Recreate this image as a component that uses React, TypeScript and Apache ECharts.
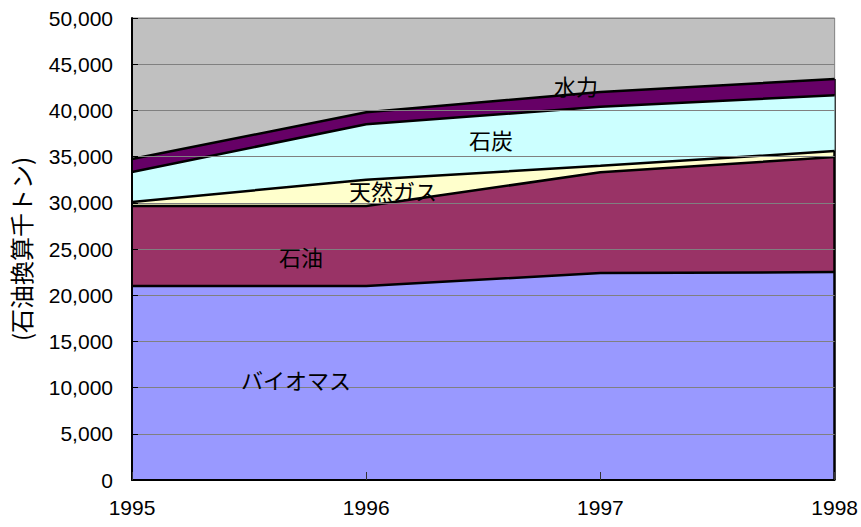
import React, { useEffect, useRef } from "react";
import * as echarts from "echarts";

// Primary energy supply by source, thousand tonnes of oil equivalent
const years = ["1995", "1996", "1997", "1998"];
const biomass = [21000, 21000, 22400, 22500];
const oil = [8650, 8650, 10900, 12450];
const naturalGas = [440, 2850, 700, 650];
const coal = [3240, 6000, 6400, 6050];
const hydro = [1400, 1300, 1600, 1750];

const yTicks = { min: 0, max: 50000, interval: 5000 };

const seriesDefs = [
  { name: "バイオマス", data: biomass, color: "#9999FF" },
  { name: "石油", data: oil, color: "#993366" },
  { name: "天然ガス", data: naturalGas, color: "#FFFFCC" },
  { name: "石炭", data: coal, color: "#CCFFFF" },
  { name: "水力", data: hydro, color: "#660066" },
];

// In-plot label placement for each band
const bandLabels = [
  { text: "水力", x: 576, y: 85 },
  { text: "石炭", x: 491, y: 139 },
  { text: "天然ガス", x: 393, y: 190 },
  { text: "石油", x: 301, y: 256 },
  { text: "バイオマス", x: 296, y: 379 },
];

const NUM_FONT = "'Liberation Sans', Arial, sans-serif";
const JP_FONT = "'Noto Sans CJK JP', sans-serif";
const OUTLINE = { color: "#000", width: 2.5 };

export default function App() {
  const ref = useRef<HTMLDivElement>(null);

  useEffect(() => {
    if (!ref.current) return;
    const chart = echarts.init(ref.current, null, { renderer: "svg" });
    const last = years.length - 1;
    const stackTop = seriesDefs.reduce((s, d) => s + d.data[last], 0);

    // Filled bands first, then their black outlines on a separate stack so
    // no band covers the boundary line of the one beneath it.
    const areaSeries = seriesDefs.map((d, i) => ({
      name: d.name,
      type: "line",
      stack: "area",
      data: d.data,
      symbol: "none",
      lineStyle: { width: 0 },
      areaStyle: { color: d.color, opacity: 1 },
      itemStyle: { color: d.color },
      z: 2 + i,
    }));
    const outlineSeries = seriesDefs.map((d, i) => ({
      name: d.name + "-outline",
      type: "line",
      stack: "outline",
      data: d.data,
      symbol: "none",
      lineStyle: OUTLINE,
      itemStyle: { color: "#000" },
      z: 20,
      markLine:
        i === seriesDefs.length - 1
          ? {
              silent: true,
              symbol: "none",
              label: { show: false },
              lineStyle: { ...OUTLINE, type: "solid" },
              data: [[{ coord: [years[last], 0] }, { coord: [years[last], stackTop] }]],
            }
          : undefined,
    }));

    chart.setOption({
      animation: false,
      grid: {
        left: 127,
        top: 18,
        right: 25,
        bottom: 47,
        show: true,
        backgroundColor: "#C0C0C0",
        borderColor: "#808080",
        borderWidth: 1,
      },
      xAxis: {
        type: "category",
        data: years,
        boundaryGap: false,
        axisLine: { lineStyle: { color: "#000", width: 2 } },
        axisTick: { inside: true, length: 8, lineStyle: { color: "#333", width: 1 } },
        axisLabel: {
          color: "#000",
          fontSize: 21,
          fontFamily: NUM_FONT,
          margin: 17,
          interval: 0,
        },
        splitLine: { show: false },
        z: 30,
      },
      yAxis: {
        type: "value",
        min: yTicks.min,
        max: yTicks.max,
        interval: yTicks.interval,
        name: "(石油換算千トン)",
        nameLocation: "middle",
        nameRotate: 90,
        nameGap: 100,
        nameTextStyle: { color: "#000", fontSize: 24, fontFamily: JP_FONT },
        axisLine: { show: true, lineStyle: { color: "#000", width: 2 } },
        axisTick: { show: true, inside: true, length: 6, lineStyle: { color: "#000", width: 1 } },
        axisLabel: {
          color: "#000",
          fontSize: 21,
          fontFamily: NUM_FONT,
          margin: 19,
          formatter: (v: number) => v.toLocaleString("en-US"),
        },
        splitLine: { show: true, lineStyle: { color: "#808080", width: 1 } },
        z: 30,
      },
      series: [...areaSeries, ...outlineSeries],
      graphic: bandLabels.map((l) => ({
        type: "text",
        x: l.x,
        y: l.y,
        z: 100,
        style: {
          text: l.text,
          fill: "#000",
          font: `22px ${JP_FONT}`,
          align: "center",
          verticalAlign: "middle",
        },
      })),
    });

    return () => chart.dispose();
  }, []);

  return (
    <div
      ref={ref}
      style={{ position: "fixed", left: 0, top: 0, width: 861, height: 527, background: "#fff" }}
    />
  );
}
